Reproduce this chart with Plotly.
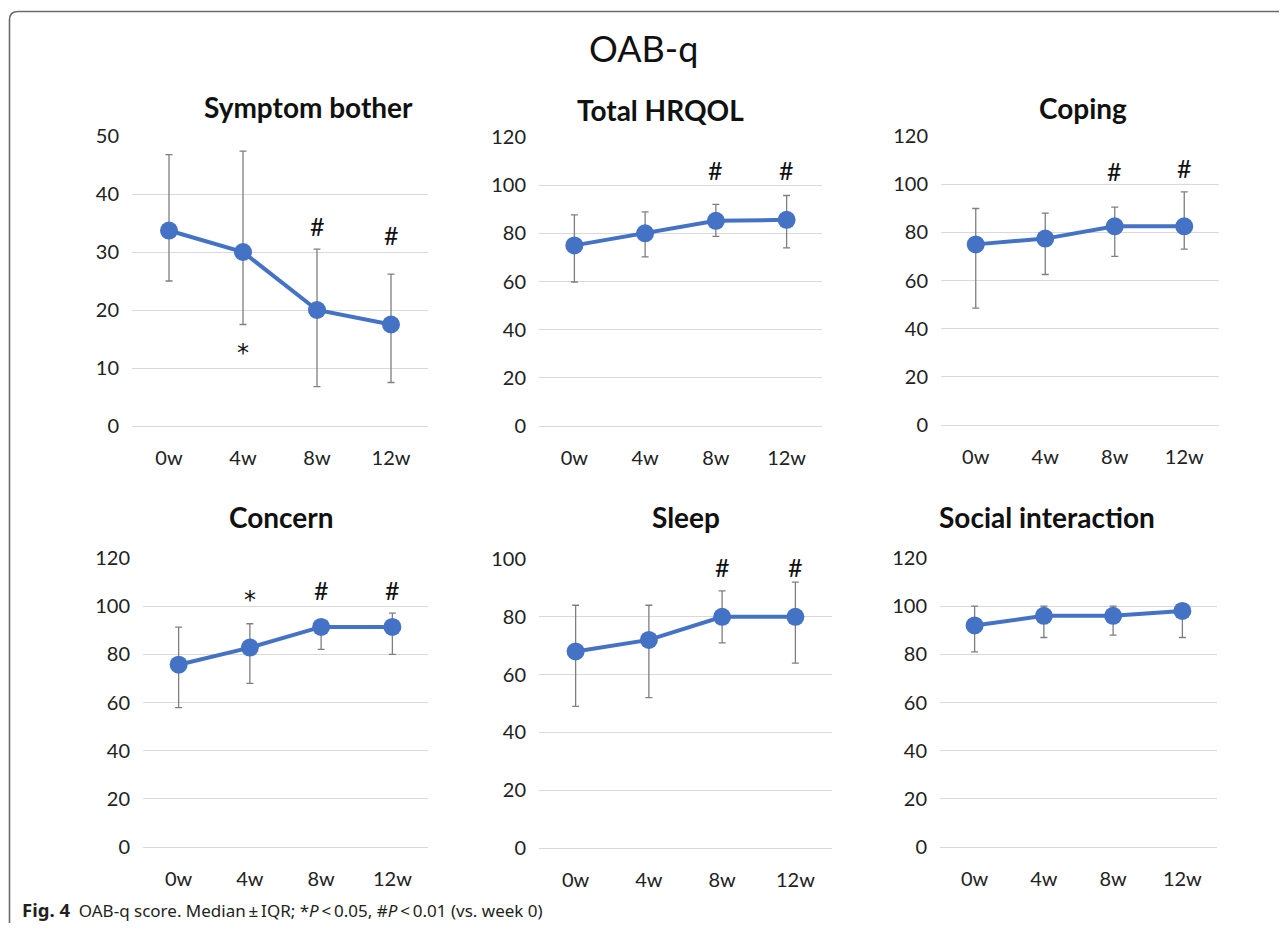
import plotly.graph_objects as go

# page body has an 8px margin; figure is sized to fit inside the 1287x931 window
OFF = 8
W, H = 1287 - 2 * OFF, 931 - 2 * OFF

weeks = ["0w", "4w", "8w", "12w"]

panel_titles = ["Symptom bother", "Total HRQOL", "Coping", "Concern", "Sleep", "Social interaction"]

symptom_median = [33.7, 30.0, 20.0, 17.5]
symptom_q3 = [46.8, 47.4, 30.5, 26.2]
symptom_q1 = [25.0, 17.5, 6.8, 7.5]

hrqol_median = [75.0, 80.0, 85.2, 85.6]
hrqol_q3 = [87.7, 88.9, 92.0, 95.7]
hrqol_q1 = [59.8, 70.2, 78.7, 74.0]

coping_median = [75.0, 77.4, 82.5, 82.5]
coping_q3 = [89.9, 88.0, 90.5, 96.8]
coping_q1 = [48.5, 62.5, 70.0, 73.0]

concern_median = [75.7, 82.8, 91.4, 91.4]
concern_q3 = [91.3, 92.7, 94.0, 97.1]
concern_q1 = [57.9, 67.9, 82.1, 80.0]

sleep_median = [68.0, 72.0, 80.0, 80.0]
sleep_q3 = [84.0, 84.0, 89.0, 92.0]
sleep_q1 = [49.0, 52.0, 71.0, 64.0]

social_median = [92.0, 96.0, 96.0, 98.0]
social_q3 = [100.0, 100.0, 100.0, 100.0]
social_q1 = [81.0, 87.0, 88.0, 87.0]

# significance marks: (week, symbol, y position)
symptom_marks = [("4w", "*", 12.6), ("8w", "#", 34.4), ("12w", "#", 33.0)]
hrqol_marks = [("8w", "#", 106.4), ("12w", "#", 106.4)]
coping_marks = [("8w", "#", 105.6), ("12w", "#", 106.8)]
concern_marks = [("4w", "*", 102.6), ("8w", "#", 106.8), ("12w", "#", 106.8)]
sleep_marks = [("8w", "#", 97.4), ("12w", "#", 97.4)]
social_marks = []

y_ranges = [[0, 50], [0, 120], [0, 120], [0, 120], [0, 100], [0, 120]]
y_dticks = [10, 20, 20, 20, 20, 20]

panels = [
    (symptom_median, symptom_q1, symptom_q3, symptom_marks),
    (hrqol_median, hrqol_q1, hrqol_q3, hrqol_marks),
    (coping_median, coping_q1, coping_q3, coping_marks),
    (concern_median, concern_q1, concern_q3, concern_marks),
    (sleep_median, sleep_q1, sleep_q3, sleep_marks),
    (social_median, social_q1, social_q3, social_marks),
]

# plot-area boxes in window pixels (left, right, top, bottom)
boxes = [
    (132, 428, 136, 426),
    (539, 822, 137, 426),
    (941, 1219, 136, 425),
    (143, 428, 558, 847),
    (539, 832, 559, 848),
    (940, 1217, 558, 847),
]
title_pos = [(308, 107), (660, 110), (1083, 108), (281, 517), (686, 517), (1047, 517)]

BLUE = "#4472C4"
FONT = "Lato"


def fx(x):
    return (x - OFF) / W


def fy(y):
    return 1 - (y - OFF) / H


fig = go.Figure()
annotations = []
layout = {}

for i, ((med, q1, q3, marks), box) in enumerate(zip(panels, boxes)):
    n = i + 1
    xa = "x" if n == 1 else f"x{n}"
    ya = "y" if n == 1 else f"y{n}"
    l, r, t, b = box
    layout["xaxis" if n == 1 else f"xaxis{n}"] = dict(
        domain=[fx(l), fx(r)], anchor=ya, type="category",
        categoryorder="array", categoryarray=weeks,
        range=[-0.5, 3.5], showgrid=False, showline=False, zeroline=False,
        ticks="", tickfont=dict(family=FONT, size=20, color="#222"),
        ticklabelstandoff=18, fixedrange=True, automargin=False,
    )
    layout["yaxis" if n == 1 else f"yaxis{n}"] = dict(
        domain=[fy(b), fy(t)], anchor=xa,
        range=y_ranges[i], dtick=y_dticks[i], tick0=0,
        showgrid=True, gridcolor="#d9d9d9", gridwidth=1,
        zeroline=True, zerolinecolor="#d9d9d9", zerolinewidth=1,
        showline=False, ticks="",
        tickfont=dict(family=FONT, size=20, color="#222"),
        ticklabelstandoff=12, fixedrange=True, automargin=False,
    )
    fig.add_trace(go.Scatter(
        x=weeks, y=med, xaxis=xa, yaxis=ya, mode="lines+markers",
        line=dict(color=BLUE, width=4),
        marker=dict(color=BLUE, size=18),
        error_y=dict(type="data", symmetric=False,
                     array=[h - m for h, m in zip(q3, med)],
                     arrayminus=[m - lo for m, lo in zip(med, q1)],
                     color="#7f7f7f", thickness=1.3, width=3.5),
        showlegend=False, hoverinfo="skip",
    ))
    for wk, sym, yv in marks:
        if sym == "*":
            f = dict(family="DejaVu Sans", size=24, color="#111")
        else:
            f = dict(family=FONT, size=25, color="#111")
        annotations.append(dict(
            x=wk, y=yv, xref=xa, yref=ya, text=sym, showarrow=False,
            font=f, xanchor="center", yanchor="middle",
        ))
    tx, ty = title_pos[i]
    annotations.append(dict(
        x=fx(tx), y=fy(ty), xref="paper", yref="paper",
        text=f"<b>{panel_titles[i]}</b>", showarrow=False,
        font=dict(family=FONT, size=28, color="#111"),
        xanchor="center", yanchor="middle",
    ))

annotations.append(dict(
    x=fx(643), y=fy(48), xref="paper", yref="paper", text="OAB-q",
    showarrow=False, font=dict(family=FONT, size=36, color="#111"),
    xanchor="center", yanchor="middle",
))
annotations.append(dict(
    x=fx(20), y=fy(909), xref="paper", yref="paper",
    text=("<b><span style='font-size:18.5px'>Fig. 4</span></b>  OAB-q score. Median\u2009\u00b1\u2009IQR; "
          "*<i>P</i>\u2009<\u20090.05, #<i>P</i>\u2009<\u20090.01 (vs. week 0)"),
    showarrow=False, font=dict(family="Noto Sans", size=17, color="#231f20"),
    xanchor="left", yanchor="middle",
))


def px(x, y):
    return f"{fx(x):.5f},{fy(y):.5f}"


border = (f"M {px(9.5, 924)} L {px(9.5, 20)} Q {px(9.5, 11.5)} {px(18, 11.5)} "
          f"L {px(1300, 11.5)}")
bottom_curve = f"M {px(9.5, 924)} Q {px(9.5, 930)} {px(14, 931)}"

layout.update(dict(
    width=W, height=H, margin=dict(l=0, r=0, t=0, b=0, autoexpand=False),
    paper_bgcolor="white", plot_bgcolor="white",
    annotations=annotations,
    shapes=[
        dict(type="path", path=border, xref="paper", yref="paper",
             line=dict(color="#6b6b6b", width=1.6)),
        dict(type="path", path=bottom_curve, xref="paper", yref="paper",
             line=dict(color="#6b6b6b", width=1.6)),
    ],
))
fig.update_layout(**layout)
fig.write_html("out.html")
